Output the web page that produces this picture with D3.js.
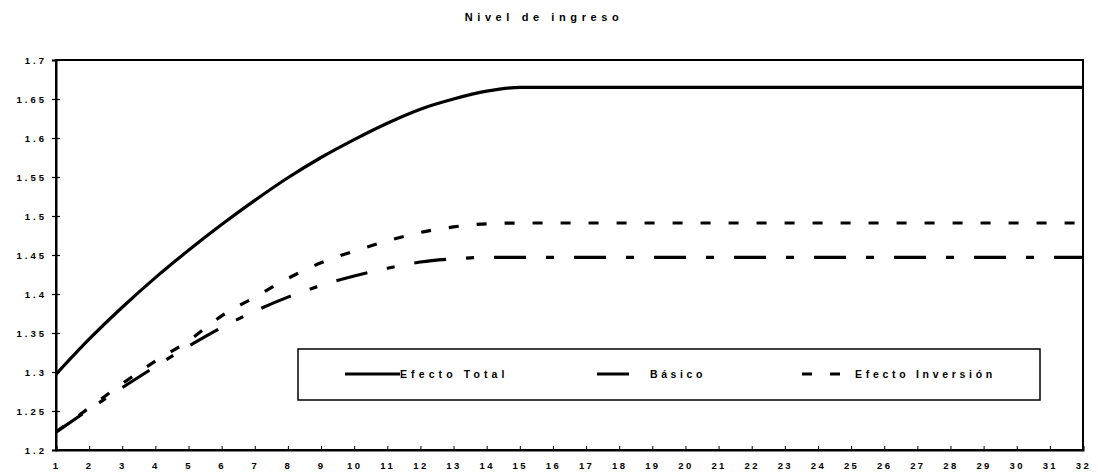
<!DOCTYPE html>
<html><head><meta charset="utf-8">
<script src="https://cdn.jsdelivr.net/npm/d3@7"></script>
<style>
body{margin:0;background:#fff;}
text{font-family:"Liberation Sans",Arial,sans-serif;font-weight:bold;fill:#000;}
</style></head>
<body>
<svg id="c" width="1098" height="472"></svg>
<script>
const periods = d3.range(1, 33);
const efectoTotal = [1.297,1.342,1.383,1.421,1.456,1.489,1.520,1.549,1.575,1.598,1.619,1.637,1.650,1.660,1.665,1.665,1.665,1.665,1.665,1.665,1.665,1.665,1.665,1.665,1.665,1.665,1.665,1.665,1.665,1.665,1.665,1.665];
const basico = [1.223,1.252,1.280,1.307,1.333,1.357,1.378,1.396,1.411,1.423,1.433,1.441,1.445,1.447,1.447,1.447,1.447,1.447,1.447,1.447,1.447,1.447,1.447,1.447,1.447,1.447,1.447,1.447,1.447,1.447,1.447,1.447];
const efectoInversion = [1.223,1.254,1.285,1.314,1.340,1.372,1.396,1.420,1.440,1.455,1.468,1.479,1.486,1.490,1.491,1.491,1.491,1.491,1.491,1.491,1.491,1.491,1.491,1.491,1.491,1.491,1.491,1.491,1.491,1.491,1.491,1.491];
const yTicks = [1.2,1.25,1.3,1.35,1.4,1.45,1.5,1.55,1.6,1.65,1.7];
const seriesNames = ["Efecto Total","Básico","Efecto Inversión"];
const title = "Nivel de ingreso";

const svg = d3.select("#c");
const L = 56, R = 1083, T = 60, B = 450;
const x = d3.scaleLinear().domain([1, 32]).range([L, R]);
const y = d3.scaleLinear().domain([1.2, 1.7]).range([B, T]);

svg.append("text").attr("x", 544).attr("y", 21).attr("text-anchor", "middle")
  .style("font-size", "11px").style("letter-spacing", "4.6px").text(title);

// frame
svg.append("rect").attr("x", L).attr("y", T).attr("width", R - L).attr("height", B - T)
  .attr("fill", "none").attr("stroke", "#000").attr("stroke-width", 2);

// y axis
const ya = svg.append("g").attr("transform", `translate(${L},0)`)
  .call(d3.axisLeft(y).tickValues(yTicks).tickFormat(d => d3.format("")(+d.toFixed(2))).tickSize(4).tickPadding(5));
ya.select(".domain").attr("stroke-width", 2);
ya.selectAll(".tick line").attr("x1", -4).attr("x2", 4).attr("stroke-width", 1.2);
ya.selectAll(".tick text").style("font-size", "9.5px").style("letter-spacing", "3px")
  .style("font-family", "'Liberation Sans',Arial,sans-serif").style("font-weight", "bold");

// x axis
const xa = svg.append("g").attr("transform", `translate(0,${B})`)
  .call(d3.axisBottom(x).tickValues(periods).tickFormat(d3.format("d")).tickSize(-4).tickPadding(12));
xa.select(".domain").attr("stroke-width", 2);
xa.selectAll(".tick line").attr("stroke-width", 1);
xa.selectAll(".tick text").style("font-size", "9.5px").style("letter-spacing", "2.4px")
  .style("font-family", "'Liberation Sans',Arial,sans-serif").style("font-weight", "bold");

const line = d3.line().x((d, i) => x(periods[i])).y(d => y(d)).curve(d3.curveMonotoneX);
const styles = [
  {data: efectoTotal, dash: null, w: 3.2},
  {data: basico, dash: "32,20,8,20", w: 3.2},
  {data: efectoInversion, dash: "10,18", w: 3.2}
];
styles.forEach(s => {
  svg.append("path").attr("d", line(s.data)).attr("fill", "none").attr("stroke", "#000")
    .attr("stroke-width", s.w).attr("stroke-dasharray", s.dash);
});

// legend
const lg = svg.append("g");
lg.append("rect").attr("x", 298).attr("y", 349).attr("width", 742).attr("height", 51)
  .attr("fill", "#fff").attr("stroke", "#000").attr("stroke-width", 1.5);
const ly = 374;
lg.append("line").attr("x1", 345).attr("x2", 400).attr("y1", ly).attr("y2", ly).attr("stroke", "#000").attr("stroke-width", 3);
lg.append("text").attr("x", 400).attr("y", ly + 4).style("font-size", "10.5px").style("letter-spacing", "4.1px").text(seriesNames[0]);
lg.append("line").attr("x1", 597).attr("x2", 629).attr("y1", ly).attr("y2", ly).attr("stroke", "#000").attr("stroke-width", 3);
lg.append("text").attr("x", 650).attr("y", ly + 4).style("font-size", "10.5px").style("letter-spacing", "3.6px").text(seriesNames[1]);
lg.append("line").attr("x1", 802).attr("x2", 840).attr("y1", ly).attr("y2", ly).attr("stroke", "#000").attr("stroke-width", 3).attr("stroke-dasharray", "10,18");
lg.append("text").attr("x", 855).attr("y", ly + 4).style("font-size", "10.5px").style("letter-spacing", "3.7px").text(seriesNames[2]);
</script>
</body></html>
